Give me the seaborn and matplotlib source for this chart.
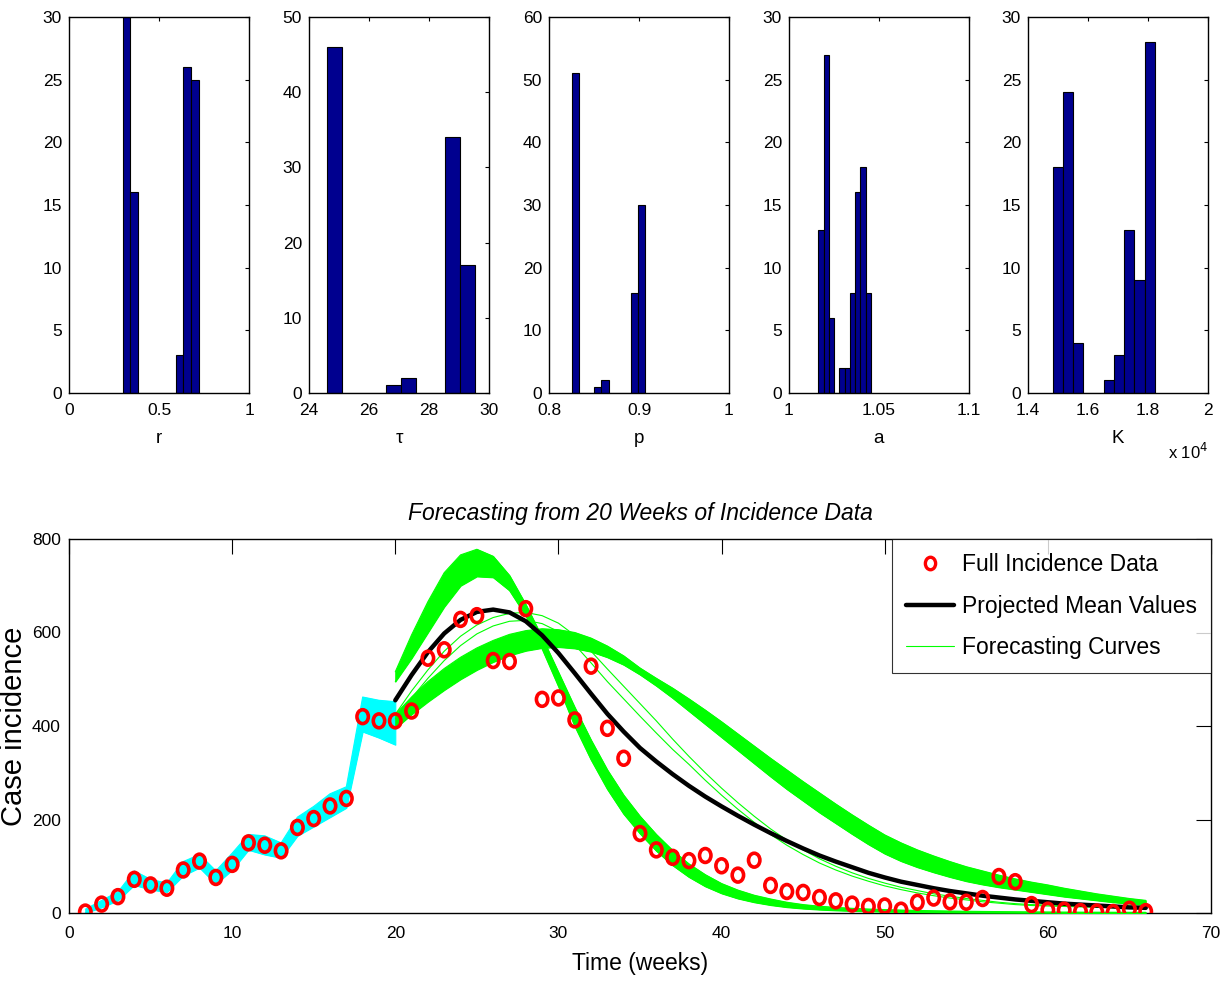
import numpy as np
import pandas as pd
import matplotlib
matplotlib.use("Agg")
import matplotlib.pyplot as plt
from matplotlib.path import Path
from matplotlib.transforms import Affine2D
from matplotlib.lines import Line2D
from matplotlib.ticker import FuncFormatter, MultipleLocator, FixedLocator
import seaborn as sns

# ---------------- parameter histograms (10 equal bins between min and max) ----------------
r_range = (0.2976, 0.7196)
r_counts = [30, 16, 0, 0, 0, 0, 0, 3, 26, 25]
tau_range = (24.59, 29.53)
tau_counts = [46, 0, 0, 0, 1, 2, 0, 0, 34, 17]
p_range = (0.8256, 0.9069)
p_counts = [51, 0, 0, 1, 2, 0, 0, 0, 16, 30]
a_range = (1.01633, 1.04545)
a_counts = [13, 27, 6, 0, 2, 2, 8, 16, 18, 8]
K_range = (14824, 18230)
K_counts = [18, 24, 4, 0, 0, 1, 3, 13, 9, 28]

param_labels = ["r", "\u03c4", "p", "a", "K"]
param_xlims = [(0, 1), (24, 30), (0.8, 1), (1, 1.1), (14000, 20000)]
param_xticks = [[0, 0.5, 1], [24, 26, 28, 30], [0.8, 0.9, 1], [1, 1.05, 1.1],
                [14000, 16000, 18000, 20000]]
param_ylims = [30, 50, 60, 30, 30]
param_ystep = [5, 10, 10, 5, 5]

# ---------------- weekly incidence ----------------
weeks = np.arange(1, 67)
incidence = [2, 19, 35, 72, 60, 53, 92, 111, 76, 104,
             150, 145, 133, 183, 202, 229, 245, 420, 411, 411,
             432, 545, 563, 628, 636, 540, 538, 651, 457, 460,
             413, 528, 395, 331, 170, 135, 119, 112, 123, 101,
             81, 113, 59, 46, 44, 33, 26, 19, 14, 15,
             6, 23, 32, 24, 23, 31, 78, 67, 18, 6,
             6, 3, 2, 1, 8, 3]

# spread of the fitted curves over the calibration window (weeks 1-20)
fit_weeks = np.arange(1, 21)
fit_upper = [8, 27, 45, 90, 72, 64, 110, 125, 90, 128,
             168, 165, 150, 205, 228, 255, 270, 462, 455, 452]
fit_lower = [0, 12, 27, 60, 50, 45, 80, 97, 62, 92,
             135, 125, 118, 165, 185, 205, 225, 388, 375, 360]

# ---------------- forecasts, weeks 20-66 ----------------
fc_weeks = np.arange(20, 67)
mean_forecast = [455, 509, 558, 598, 627, 644, 649, 643, 624, 594,
                 556, 513, 469, 426, 388, 353, 324, 297, 272, 249,
                 228, 208, 189, 171, 154, 138, 123, 110, 98, 86,
                 76, 67, 60, 53, 47, 42, 37, 33, 29, 26,
                 23, 20, 18, 16, 14, 12, 11]

# early, tall epidemic curves
early_top = [516, 595, 666, 728, 766, 778, 763, 722, 660, 590,
             515, 440, 370, 306, 252, 207, 168, 134, 105, 82,
             63, 49, 38, 30, 23, 18, 14.5, 12, 10, 8.5,
             7.3, 6.3, 5.5, 4.8, 4.2, 3.7, 3.3, 3.0, 2.7, 2.4,
             2.2, 2.0, 1.8, 1.7, 1.6, 1.5, 1.4]
early_bottom = [495, 545, 600, 655, 700, 720, 718, 690, 636, 565,
                485, 400, 328, 265, 212, 170, 133, 102, 77, 57,
                42, 31, 23, 17, 12.5, 9.5, 7.3, 5.7, 4.5, 3.6,
                2.9, 2.4, 2.0, 1.7, 1.4, 1.2, 1.0, 0.9, 0.8, 0.7,
                0.6, 0.5, 0.5, 0.4, 0.4, 0.3, 0.3]

# late, broad epidemic curves
late_top = [425, 462, 495, 523, 547, 567, 583, 596, 604, 608,
            606, 600, 588, 571, 550, 524, 502, 481, 458, 434,
            409, 383, 357, 331, 306, 281, 257, 233, 210, 188,
            167, 150, 135, 122, 110, 99, 90, 81, 73, 66,
            60, 53, 47, 41, 36, 31, 27]
late_bottom = [395, 425, 452, 477, 500, 520, 537, 551, 561, 567,
               569, 566, 559, 547, 531, 510, 486, 460, 432, 404,
               376, 348, 320, 292, 265, 240, 215, 192, 169, 147,
               127, 111, 98, 87, 77, 68, 61, 55, 50, 45,
               40, 35, 31, 27, 23, 20, 17]

# the few intermediate curves
mid_upper = [425, 475, 520, 560, 592, 616, 632, 641, 643, 636,
             620, 594, 560, 522, 485, 448, 411, 372, 335, 300,
             267, 236, 207, 180, 156, 135, 116, 100, 86, 74,
             64, 55, 48, 41, 36, 31, 27, 23, 20, 18,
             17, 16, 15, 14, 13, 12.5, 12]
mid_lower = [415, 460, 502, 540, 572, 597, 614, 624, 626, 619,
             602, 574, 535, 495, 458, 421, 385, 350, 318, 284,
             252, 222, 194, 168, 145, 125, 107, 92, 79, 68,
             58, 50, 43, 37, 32, 28, 24, 21, 18, 16,
             15, 14, 13, 12, 11.5, 11, 10.5]

# ---------------- style ----------------
sns.set_theme(style="white")
plt.rcParams["font.family"] = ["Liberation Sans", "DejaVu Sans"]
plt.rcParams["axes.linewidth"] = 1.0
plt.rcParams["axes.edgecolor"] = "black"
plt.rcParams["axes.labelcolor"] = "black"
plt.rcParams["xtick.color"] = "black"
plt.rcParams["ytick.color"] = "black"
plt.rcParams["text.color"] = "black"

fig = plt.figure(figsize=(12.28, 9.81), dpi=100)

BAR = "#00008F"
TICK_FS = 12.5
tick_fmt = FuncFormatter(lambda v, pos: f"{v:g}")

hist_specs = [(r_range, r_counts), (tau_range, tau_counts), (p_range, p_counts),
              (a_range, a_counts), (K_range, K_counts)]
lefts = [69, 309, 549, 789, 1028]
W, H = 1228.0, 981.0
for i, ((lo, hi), counts) in enumerate(hist_specs):
    ax = fig.add_axes([lefts[i] / W, 1 - 393 / H, 180 / W, 376 / H])
    width = (hi - lo) / len(counts)
    centers = lo + width * (np.arange(len(counts)) + 0.5)
    df = pd.DataFrame({"value": centers, "count": counts})
    sns.histplot(data=df, x="value", weights="count", bins=len(counts),
                 binrange=(lo, hi), ax=ax, color=BAR,
                 edgecolor="black", linewidth=0.8, alpha=1.0)
    ax.set_xlim(*param_xlims[i])
    ax.set_ylim(0, param_ylims[i])
    ax.xaxis.set_major_locator(FixedLocator(param_xticks[i]))
    ax.yaxis.set_major_locator(MultipleLocator(param_ystep[i]))
    if i == 4:
        ax.xaxis.set_major_formatter(FuncFormatter(lambda v, pos: f"{v / 1e4:g}"))
        ax.text(1.0, -0.158, "x 10$^{4}$", transform=ax.transAxes, ha="right",
                va="center", fontsize=12)
    else:
        ax.xaxis.set_major_formatter(tick_fmt)
    ax.tick_params(direction="in", length=3, width=0.8, top=True, right=True,
                   labelsize=TICK_FS, colors="black")
    ax.tick_params(axis="x", pad=7)
    ax.tick_params(axis="y", pad=5)
    ax.set_xlabel(param_labels[i], fontsize=13.5, labelpad=9)
    ax.set_ylabel("")
    for s in ax.spines.values():
        s.set_visible(True)
        s.set_color("black")

# ---------------- forecast panel ----------------
ax = fig.add_axes([69 / W, 1 - 913 / H, 1142 / W, 374 / H])

CYAN = "#00FFFF"
GREEN = "#00FF00"

ax.fill_between(fit_weeks, fit_lower, fit_upper, color=CYAN, lw=0.8, zorder=2)
sns.lineplot(x=fit_weeks, y=fit_upper, ax=ax, color=CYAN, lw=0.8, zorder=2)
sns.lineplot(x=fit_weeks, y=fit_lower, ax=ax, color=CYAN, lw=0.8, zorder=2)

for lo_, hi_ in [(early_bottom, early_top), (late_bottom, late_top)]:
    lo_a = np.minimum(lo_, hi_)
    hi_a = np.maximum(lo_, hi_)
    ax.fill_between(fc_weeks, lo_a, hi_a, color=GREEN, lw=0.8, zorder=3)
for curve in [early_top, early_bottom, late_top, late_bottom, mid_upper, mid_lower]:
    sns.lineplot(x=fc_weeks, y=curve, ax=ax, color=GREEN, lw=0.8, zorder=3)

sns.lineplot(x=fc_weeks, y=mean_forecast, ax=ax, color="black", lw=3.2, zorder=4)

ring = Path.unit_circle().transformed(Affine2D().scale(0.82, 1.0))
ax.scatter(weeks, incidence, marker=ring, s=10 ** 2, facecolors="none",
           edgecolors="red", linewidths=2.6, zorder=5)

ax.set_xlim(0, 70)
ax.set_ylim(0, 800)
ax.xaxis.set_major_locator(MultipleLocator(10))
ax.yaxis.set_major_locator(MultipleLocator(200))
ax.tick_params(direction="in", length=11, width=0.8, top=True, right=True,
               labelsize=TICK_FS, colors="black")
ax.tick_params(axis="x", pad=9)
ax.tick_params(axis="y", pad=6)
for t in ax.get_xticklines() + ax.get_yticklines():
    t.set_color("#444444")
for s in ax.spines.values():
    s.set_visible(True)
    s.set_color("black")
ax.set_xlabel("Time (weeks)", fontsize=16.5, labelpad=8, color="black")
ax.set_ylabel("Case incidence", fontsize=21, color="black")
ax.yaxis.set_label_coords(-0.036, 0.5)
ax.set_title("Forecasting from 20 Weeks of Incidence Data", fontsize=16.5,
             style="italic", pad=14, color="black")

handles = [
    Line2D([], [], ls="none", marker=ring, markersize=9, markerfacecolor="none",
           markeredgecolor="red", markeredgewidth=2.4),
    Line2D([], [], color="black", lw=3.2),
    Line2D([], [], color=GREEN, lw=0.8),
]
leg = ax.legend(handles, ["Full Incidence Data", "Projected Mean Values", "Forecasting Curves"],
                loc="upper right", borderaxespad=0, fancybox=False, frameon=True,
                edgecolor="black", fontsize=16.5, handlelength=2.1, handletextpad=0.35,
                labelspacing=0.82, borderpad=0.6)
leg.get_frame().set_linewidth(0.8)
leg.set_zorder(6)
for txt in leg.get_texts():
    txt.set_color("black")

fig.savefig("out.png", dpi=100, facecolor="white")
